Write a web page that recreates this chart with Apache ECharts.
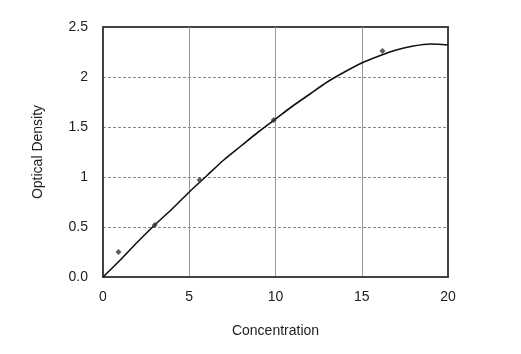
<!DOCTYPE html>
<html>
<head>
<meta charset="utf-8">
<script src="https://cdn.jsdelivr.net/npm/echarts@6/dist/echarts.min.js"></script>
<style>
  html, body { margin: 0; padding: 0; background: #fff; }
  #chart { width: 521px; height: 354px; }
</style>
</head>
<body>
<div id="chart"></div>
<script>
// standard curve
const curveConc = [0, 1, 2, 3, 4, 5, 6, 7, 8, 9, 10, 11, 12, 13, 14, 15, 16, 17, 18, 19, 20];
const curveOD = [0, 0.17, 0.35, 0.52, 0.68, 0.85, 1.01, 1.17, 1.31, 1.45, 1.58, 1.71, 1.83, 1.95, 2.05, 2.14, 2.21, 2.27, 2.31, 2.33, 2.32];
// measured points
const pointConc = [0.9, 3.0, 5.6, 9.9, 16.2];
const pointOD = [0.25, 0.52, 0.97, 1.57, 2.26];

const font = "'Liberation Sans', Arial, sans-serif";

const chart = echarts.init(document.getElementById("chart"));
chart.setOption({
  animation: false,
  grid: {
    left: 103, right: 73, top: 27, bottom: 77,
    show: true, borderColor: "#444", borderWidth: 2, backgroundColor: "#fff"
  },
  xAxis: {
    type: "value", min: 0, max: 20, interval: 5,
    name: "Concentration", nameLocation: "middle", nameGap: 47,
    nameTextStyle: { fontFamily: font, fontSize: 14, color: "#222" },
    axisLine: { lineStyle: { color: "#444", width: 2 } },
    axisTick: { show: false },
    axisLabel: { fontFamily: font, fontSize: 14, color: "#222", margin: 13 },
    splitLine: { showMinLine: false, showMaxLine: false, lineStyle: { color: "#999", width: 1 } }
  },
  yAxis: {
    type: "value", min: 0, max: 2.5, interval: 0.5,
    name: "Optical Density", nameLocation: "middle", nameGap: 58,
    nameTextStyle: { fontFamily: font, fontSize: 14, color: "#222" },
    axisLine: { show: true, lineStyle: { color: "#444", width: 2 } },
    axisTick: { show: false },
    axisLabel: {
      fontFamily: font, fontSize: 14, color: "#222", margin: 15,
      formatter: v => (v === 0 ? "0.0" : String(v))
    },
    splitLine: { showMinLine: false, showMaxLine: false, lineStyle: { color: "#888", width: 1, type: [3, 2] } }
  },
  series: [
    {
      type: "line",
      data: curveConc.map((c, i) => [c, curveOD[i]]),
      smooth: 0.3,
      showSymbol: false,
      lineStyle: { color: "#111", width: 1.6 },
      z: 3
    },
    {
      type: "scatter",
      data: pointConc.map((c, i) => [c, pointOD[i]]),
      symbol: "diamond",
      symbolSize: 6,
      itemStyle: { color: "#333" },
      z: 4
    }
  ]
});
</script>
</body>
</html>
